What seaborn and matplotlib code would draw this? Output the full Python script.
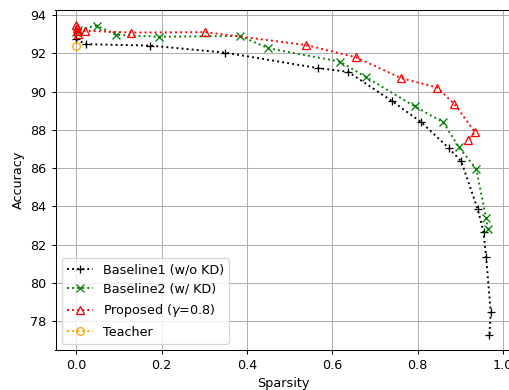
import matplotlib
matplotlib.use("Agg")
import matplotlib.pyplot as plt
import seaborn as sns

# values
b1_x = [0.0, 0.023, 0.173, 0.349, 0.567, 0.637, 0.739, 0.808, 0.872, 0.902, 0.940, 0.954, 0.960, 0.971, 0.968]
b1_y = [92.73, 92.47, 92.40, 92.03, 91.22, 91.03, 89.51, 88.40, 87.06, 86.35, 83.88, 82.68, 81.36, 78.47, 77.31]

b2_x = [0.0, 0.004, 0.048, 0.093, 0.195, 0.384, 0.450, 0.618, 0.679, 0.793, 0.859, 0.897, 0.937, 0.960, 0.964]
b2_y = [93.10, 93.22, 93.44, 92.96, 92.86, 92.90, 92.26, 91.56, 90.75, 89.22, 88.40, 87.08, 85.95, 83.39, 82.82]

prop_x = [0.0, 0.001, 0.002, 0.004, 0.020, 0.128, 0.302, 0.538, 0.655, 0.761, 0.845, 0.886, 0.934, 0.917]
prop_y = [93.45, 93.30, 93.15, 93.00, 93.17, 93.08, 93.10, 92.43, 91.79, 90.70, 90.21, 89.34, 87.88, 87.48]

teacher_x = [0.0]
teacher_y = [92.40]

# the reference looks rendered at a slightly lower dpi than 100
dpi = 92
fig = plt.figure(figsize=(509 / dpi, 390 / dpi), dpi=dpi)
ax = fig.add_axes([55.5 / 509, 40 / 390, 456 / 509, 340 / 390])

series = [
    (b1_x, b1_y, "Baseline1 (w/o KD)", "k", "+", "full"),
    (b2_x, b2_y, "Baseline2 (w/ KD)", "g", "x", "full"),
    (prop_x, prop_y, r"Proposed ($\gamma$=0.8)", "r", "^", "none"),
    (teacher_x, teacher_y, "Teacher", "orange", "o", "none"),
]
for xs, ys, lab, col, mk, fs in series:
    sns.lineplot(x=xs, y=ys, ax=ax, label=lab, color=col, marker=mk,
                 linestyle=":", linewidth=1.5, markersize=6, fillstyle=fs,
                 markeredgecolor=col, markeredgewidth=1.0,
                 sort=False, estimator=None)

ax.grid(True)
ax.set_axisbelow(True)
ax.set_xlabel("Sparsity")
ax.set_ylabel("Accuracy")
ax.set_xticks([0.0, 0.2, 0.4, 0.6, 0.8, 1.0])
ax.set_yticks([78, 80, 82, 84, 86, 88, 90, 92, 94])
ax.legend(loc="lower left")

fig.savefig("out.png", dpi=dpi)
